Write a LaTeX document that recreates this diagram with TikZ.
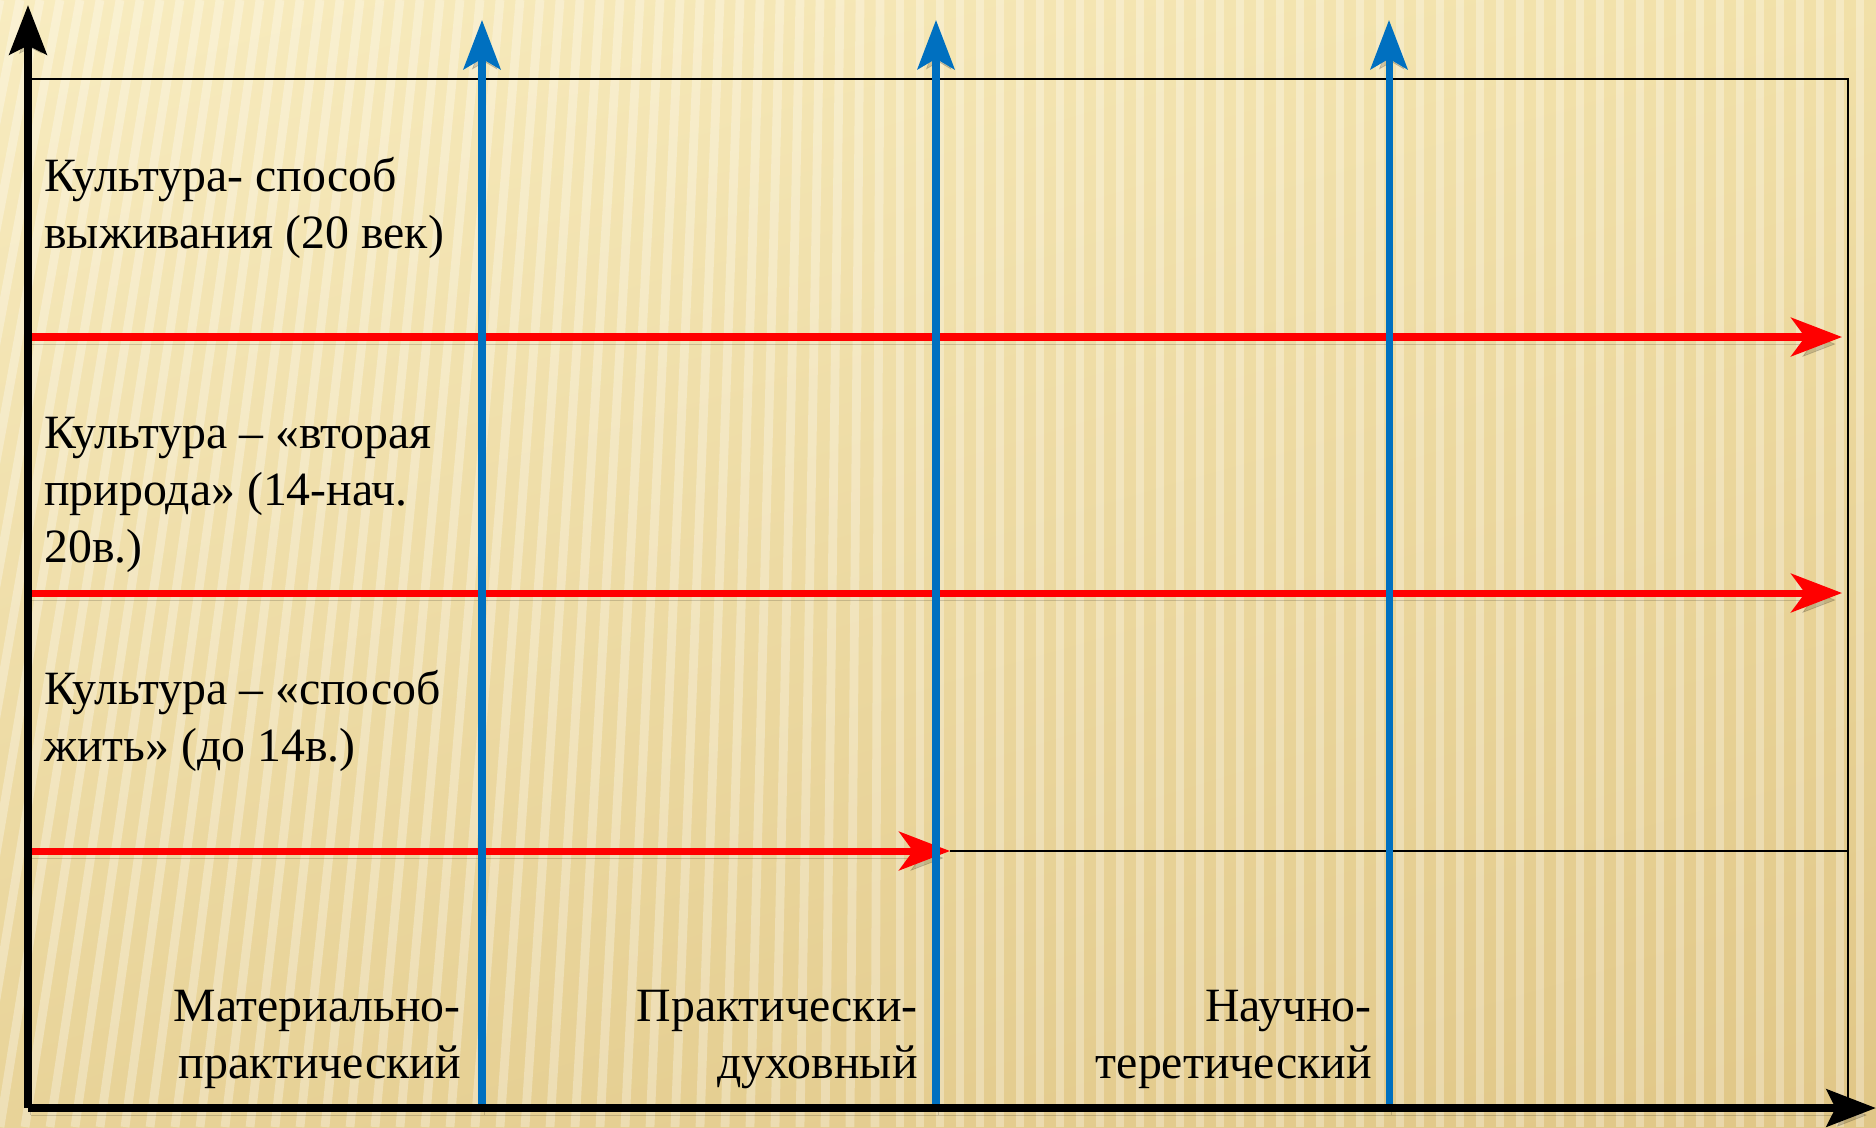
\documentclass[tikz,border=0pt]{standalone}
\usepackage{fontspec}
\setmainfont{Liberation Serif}
\usetikzlibrary{arrows.meta,shadings}

\definecolor{goldUL}{HTML}{F8ECC0}
\definecolor{goldUR}{HTML}{F1E0A8}
\definecolor{goldLL}{HTML}{E8D398}
\definecolor{goldLR}{HTML}{E0C686}
\definecolor{epared}{HTML}{FF0000}
\definecolor{stageblue}{HTML}{0070C0}

\tikzset{
  mainaxis/.style={black, line width=5pt, -{Stealth[length=28pt,width=21pt,inset=5pt]}},
  epoch/.style={epared, line width=4pt, -{Stealth[length=29pt,width=22pt,inset=8pt]}},
  stage/.style={stageblue, line width=4pt, -{Stealth[length=28pt,width=21pt,inset=6pt]}},
  thinline/.style={black, line width=1.3pt},
  stripe/.style={white, line width=5pt, opacity=0.3},
  dropshade/.style={preaction={draw=black, opacity=0.16, transform canvas={shift={(1.5pt,-4pt)}}}},
  lbl/.style={font=\fontsize{27.2pt}{32.3pt}\selectfont, inner sep=0pt}
}

\begin{document}
\begin{tikzpicture}[x=0.02cm, y=0.02cm]
    \useasboundingbox (0,0) rectangle (1876,-1127);
    \shade[upper left=goldUL, upper right=goldUR, lower left=goldLL, lower right=goldLR] (0,0) rectangle (1876,-1127);
    \begin{scope}
    \clip (0,0) rectangle (1876,-1127);
    \foreach \x in {0,20,...,2000} {
        \pgfmathsetmacro\s{max(0,(900-\x)*0.25)}
        \draw [stripe] (\x-\s,-1127) -- (\x,0);
    }
    \end{scope}
    \coordinate (o) at (28,-1108);
    \coordinate (ytip) at (28,-5);
    \coordinate (xtip) at (1876,-1108);
    \coordinate (tl) at (28,-79);
    \coordinate (tr) at (1848,-79);
    \coordinate (br) at (1848,-1108);
    \coordinate (r1s) at (28,-337);
    \coordinate (r1e) at (1842,-337);
    \coordinate (r2s) at (28,-593);
    \coordinate (r2e) at (1842,-593);
    \coordinate (r3s) at (28,-851);
    \coordinate (r3e) at (950,-851);
    \coordinate (r3r) at (1848,-851);
    \coordinate (b1s) at (482,-1108);
    \coordinate (b1e) at (482,-20);
    \coordinate (b2s) at (936,-1108);
    \coordinate (b2e) at (936,-20);
    \coordinate (b3s) at (1389,-1108);
    \coordinate (b3e) at (1389,-20);
    \draw [thinline] (tl) -- (tr) -- (br);
    \draw [thinline] (r3e) -- (r3r);
    \draw [epoch, dropshade] (r1s) -- (r1e);
    \draw [epoch, dropshade] (r2s) -- (r2e);
    \draw [epoch, dropshade] (r3s) -- (r3e);
    \draw [stage, dropshade] (b1s) -- (b1e);
    \draw [stage, dropshade] (b2s) -- (b2e);
    \draw [stage, dropshade] (b3s) -- (b3e);
    \draw [mainaxis, dropshade] (o) -- (ytip);
    \draw [mainaxis, dropshade] (o) -- (xtip);
    \node [lbl, align=left, anchor=base west] (c20) at (44,-248) {Культура- способ\\выживания (20 век)};
    \node [lbl, align=left, anchor=base west] (c14) at (44,-562) {Культура -- «вторая\\природа» (14-нач.\\20в.)};
    \node [lbl, align=left, anchor=base west] (c0) at (44,-761) {Культура -- «способ\\жить» (до 14в.)};
    \node [lbl, align=right, anchor=base east] (mat) at (461,-1078) {Материально-\\практический};
    \node [lbl, align=right, anchor=base east] (pra) at (918,-1078) {Практически-\\духовный};
    \node [lbl, align=right, anchor=base east] (nau) at (1372,-1078) {Научно-\\теретический};
\end{tikzpicture}
\end{document}
